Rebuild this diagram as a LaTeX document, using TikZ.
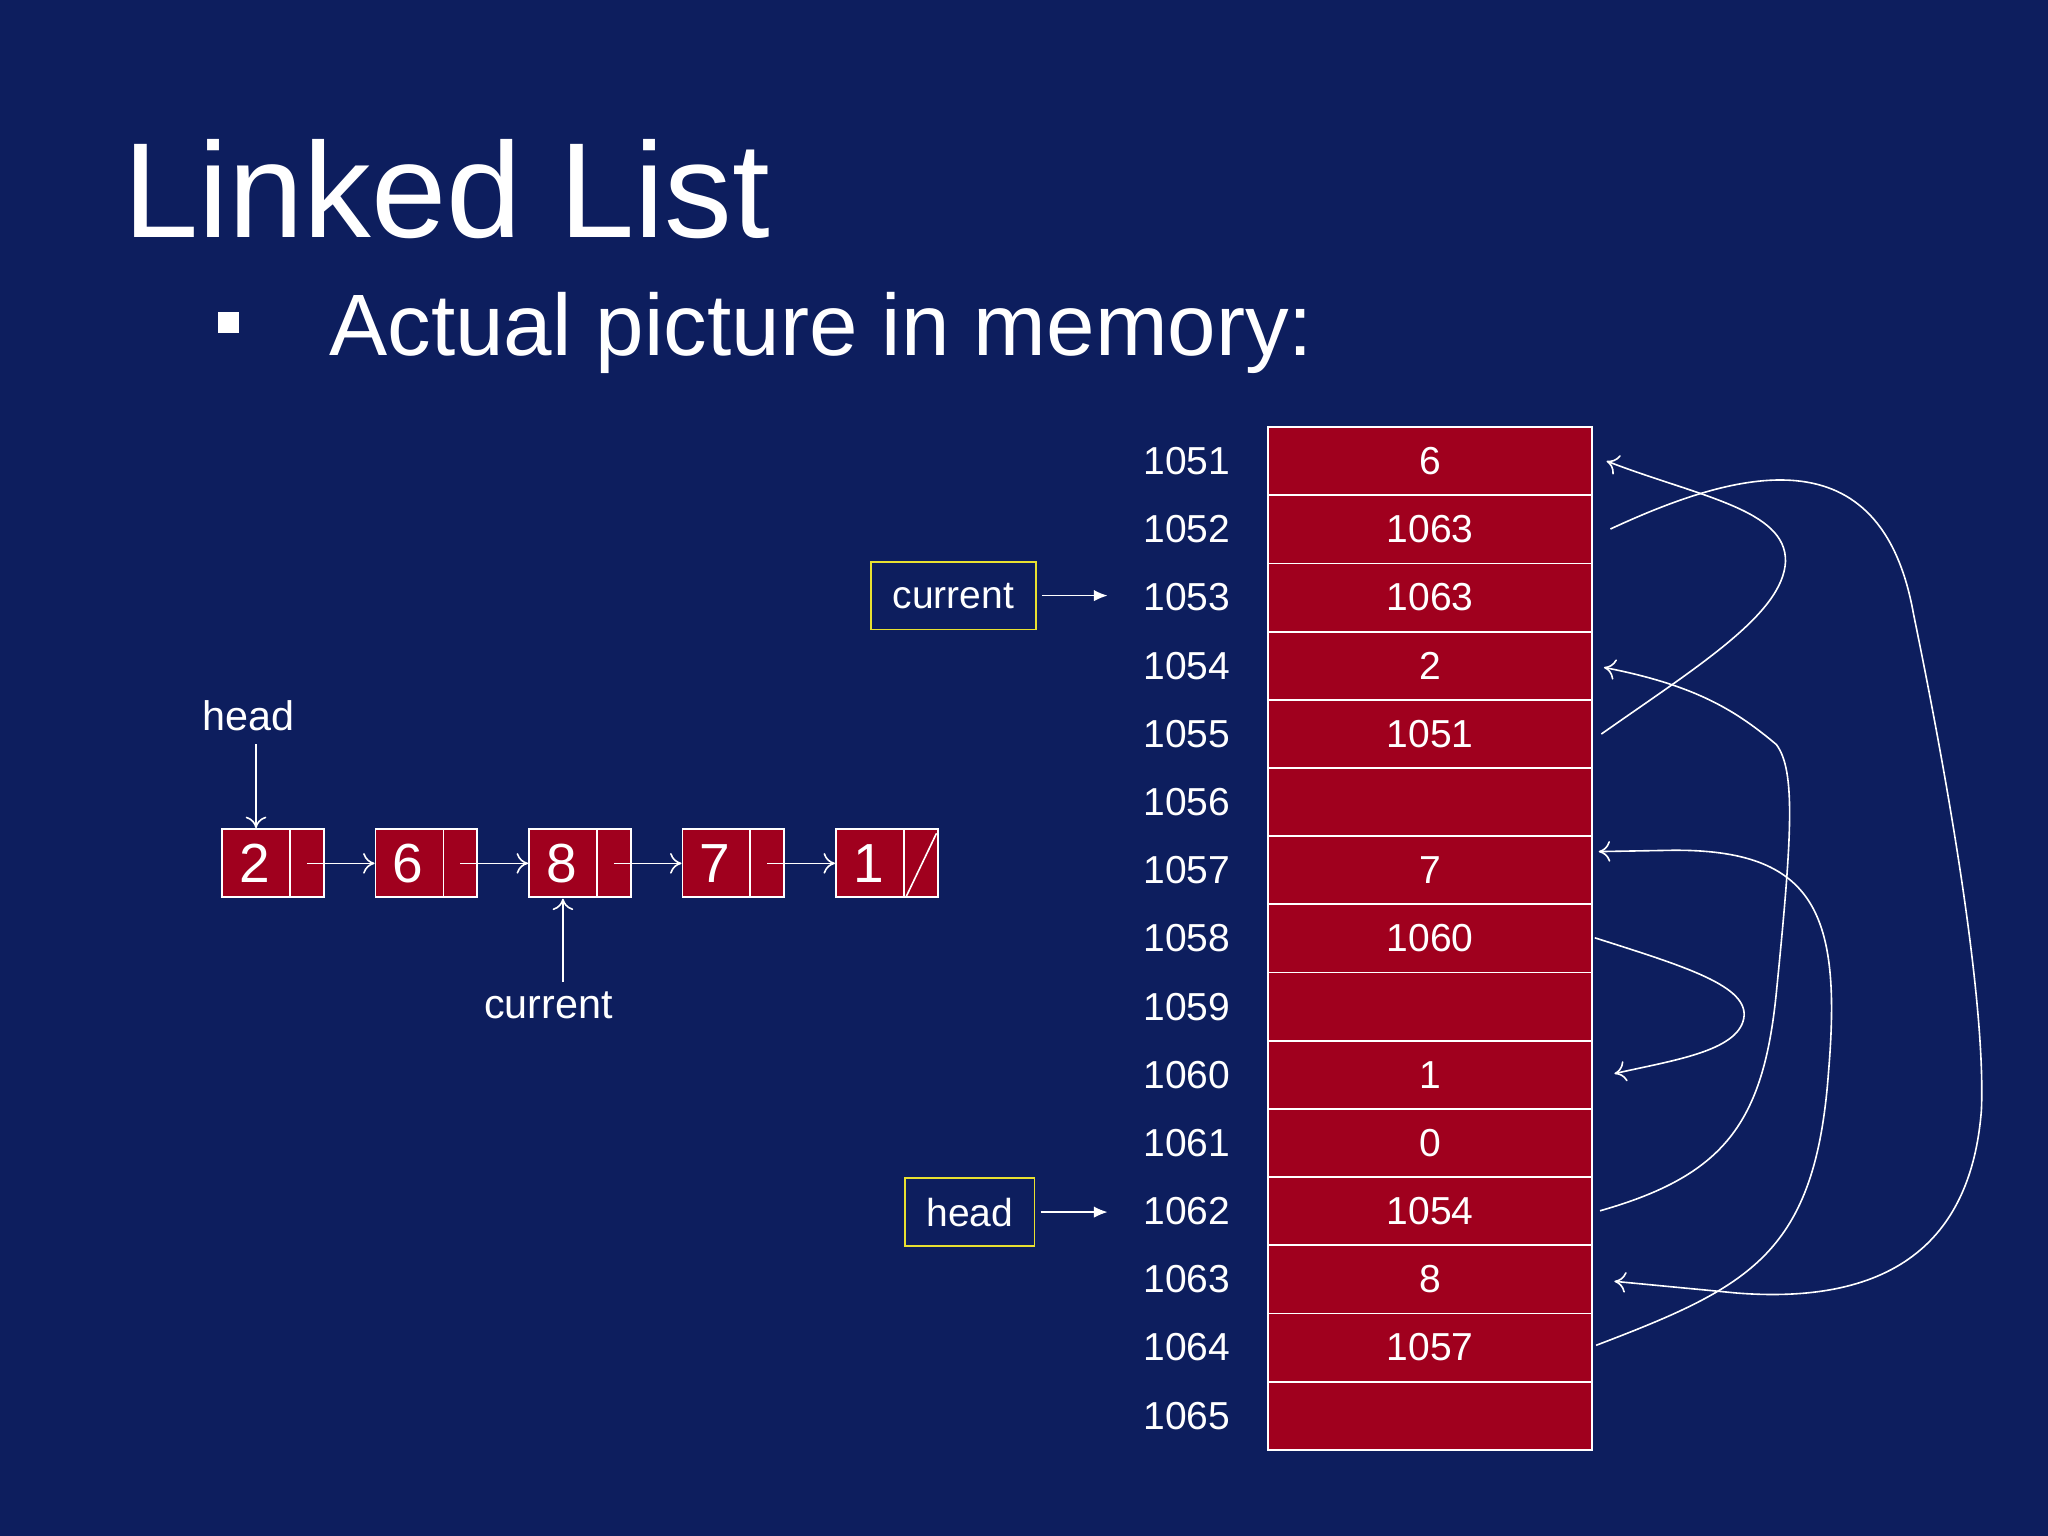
\documentclass[tikz,border=0pt]{standalone}
\usepackage{fontspec}
\setmainfont{Liberation Sans}
\usetikzlibrary{arrows.meta}
\definecolor{bg}{HTML}{0D1E5E}
\definecolor{cell}{HTML}{A0001E}
\definecolor{ybox}{HTML}{E8E030}
\begin{document}
\begin{tikzpicture}[x=0.02cm,y=-0.02cm,
  mem/.style={draw=white,fill=cell,line width=0.8pt,minimum width=248*0.02cm,minimum height=52.2*0.02cm,inner sep=0,text=white,font=\fontsize{17}{20}\selectfont},
  addr/.style={text=white,font=\fontsize{17}{20}\selectfont,anchor=east},
  lst/.style={draw=white,fill=cell,line width=0.8pt,minimum width=78*0.02cm,minimum height=52*0.02cm,inner sep=0},
  lab/.style={text=white,font=\fontsize{18}{21}\selectfont},
  ln/.style={white,line width=0.7pt},
  oa/.style={ln,-{To[length=5pt,width=9pt]}},
  fa/.style={ln,-{Latex[length=6pt,width=5pt]}},
  ybx/.style={draw=ybox,line width=0.8pt,text=white,font=\fontsize{17}{20}\selectfont,inner sep=0}]
\fill[bg] (0,0) rectangle (1568,1176);
\useasboundingbox (0,0) rectangle (1568,1176);
\node[anchor=west,text=white,font=\fontsize{59}{60}\selectfont] (title) at (88,145) {Linked List};
\fill[white] (167,239) rectangle (183,255);
\node[anchor=west,text=white,font=\fontsize{38}{40}\selectfont] (sub) at (246,255) {Actual picture in memory:};
% memory
\foreach \i/\v [count=\k from 0] in {1051/6,1052/1063,1053/1063,1054/2,1055/1051,1056/,1057/7,1058/1060,1059/,1060/1,1061/0,1062/1054,1063/8,1064/1057,1065/}{
  \node[mem] (m\i) at (1095,{353.1+52.2*\k}) {\v};
  \node[addr] (a\i) at (948,{353.1+52.2*\k}) {\i};
}
% pointer boxes
\node[ybx,minimum width=126*0.02cm,minimum height=52*0.02cm] (cur) at (730,456) {current};
\node[ybx,minimum width=99*0.02cm,minimum height=52*0.02cm] (hd) at (742.5,928) {head};
\coordinate (ct) at (848,456);
\coordinate (ht) at (848,928);
\draw[fa] (cur.east)++(4,0) -- (ct);
\draw[fa] (hd.east)++(4,0) -- (ht);
% curves
\coordinate (s52) at (1233,405); \coordinate (e63) at (1236,981);
\draw[oa] (s52) .. controls (1330,360) and (1440,330) .. (1465,470)
  .. controls (1500,640) and (1520,780) .. (1517,850)
  .. controls (1510,940) and (1460,1000) .. (1330,990) -- (e63);
\coordinate (s55) at (1226,562); \coordinate (e51) at (1230,353);
\draw[oa] (s55) .. controls (1300,510) and (1365,470) .. (1367,430)
  .. controls (1368,390) and (1300,380) .. (e51);
\coordinate (s58) at (1221,718); \coordinate (e60) at (1236,822);
\draw[oa] (s58) .. controls (1290,740) and (1340,755) .. (1335,780)
  .. controls (1330,805) and (1280,812) .. (e60);
\coordinate (s62) at (1225,927); \coordinate (e54) at (1228,511);
\draw[oa] (s62) .. controls (1320,900) and (1350,860) .. (1360,760)
  .. controls (1372,640) and (1375,590) .. (1360,570)
  .. controls (1330,545) and (1300,525) .. (e54);
\coordinate (s64) at (1222,1030); \coordinate (e57) at (1224,652);
\draw[oa] (s64) .. controls (1340,985) and (1390,960) .. (1400,820)
  .. controls (1410,700) and (1390,650) .. (1280,651) -- (e57);
% list
\foreach \n/\x/\v in {1/209/2,2/326.5/6,3/444/8,4/561.5/7,5/679/1}{
  \node[lst] (l\n) at (\x,661) {};
  \draw[white,line width=0.8pt] (\x+13,635) -- (\x+13,687);
  \node[text=white,font=\fontsize{24}{26}\selectfont] (v\n) at (\x-14,661) {\v};
  \coordinate (p\n) at (\x+26,661);
}
\draw[oa] (p1) -- (l2.west);
\draw[oa] (p2) -- (l3.west);
\draw[oa] (p3) -- (l4.west);
\draw[oa] (p4) -- (l5.west);
\draw[ln] (694,686) -- (717,638);
\node[lab] (hl) at (190,548) {head};
\node[lab] (cl) at (420,770) {current};
\draw[oa] (196,570) -- (196,634);
\draw[oa] (431,752) -- (431,688);
\end{tikzpicture}
\end{document}
